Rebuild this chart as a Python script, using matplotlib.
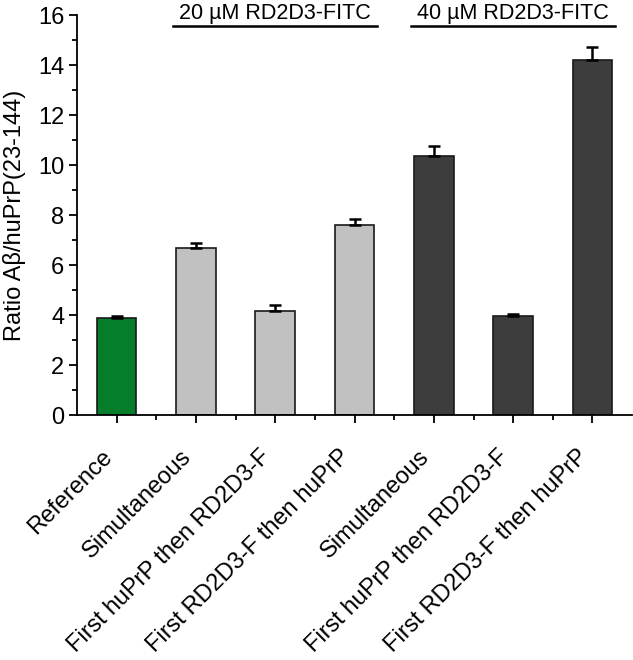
import numpy as np
import matplotlib.pyplot as plt
from matplotlib.ticker import MultipleLocator

plt.rcParams['font.family'] = ['Liberation Sans', 'DejaVu Sans']

categories = ["Reference", "Simultaneous", "First huPrP then RD2D3-F", "First RD2D3-F then huPrP",
              "Simultaneous", "First huPrP then RD2D3-F", "First RD2D3-F then huPrP"]
ratios = [3.90, 6.67, 4.17, 7.62, 10.35, 3.95, 14.22]
errors = [0.05, 0.23, 0.24, 0.23, 0.43, 0.09, 0.52]
colors = ["#067d2b", "#c1c1c1", "#c1c1c1", "#c1c1c1", "#3c3d3c", "#3c3d3c", "#3c3d3c"]
group_labels = ["20 µM RD2D3-FITC", "40 µM RD2D3-FITC"]
group_spans = [(2, 4), (5, 7)]

x = np.arange(1, len(categories) + 1)

fig = plt.figure(figsize=(6.33, 6.6), dpi=100)
ax = fig.add_axes([0.1216, 0.371, 0.877, 0.606])

ax.bar(x, ratios, width=0.5, color=colors, edgecolor="#1a1a1a", linewidth=1.2, zorder=2)
ax.errorbar(x, ratios, yerr=[np.zeros(len(errors)), errors], fmt="none",
            ecolor="black", elinewidth=1.8, capsize=4.5, capthick=1.8, zorder=3)

ax.set_xlim(0.5, 7.5)
ax.set_ylim(0, 16)
ax.yaxis.set_major_locator(MultipleLocator(2))
ax.yaxis.set_minor_locator(MultipleLocator(1))
ax.set_xticks(x)
ax.set_xticks(x[:-1] + 0.5, minor=True)
ax.set_xticklabels(categories, rotation=45, ha="right", fontsize=17)
ax.tick_params(axis="y", labelsize=17, pad=3)
ax.tick_params(axis="x", which="major", pad=16)
ax.tick_params(which="major", direction="out", length=6, width=1.3)
ax.tick_params(which="minor", direction="out", length=3.5, width=1.3)
ax.set_ylabel("Ratio Aβ/huPrP(23-144)", fontsize=17, labelpad=9)

for side in ["top", "right"]:
    ax.spines[side].set_visible(False)
for side in ["left", "bottom"]:
    ax.spines[side].set_linewidth(1.3)

# group brackets above the bars
for label, (a, b) in zip(group_labels, group_spans):
    ax.plot([a - 0.29, b + 0.28], [15.58, 15.58], color="black", linewidth=1.8, clip_on=False)
    ax.text((a + b) / 2, 15.86, label, ha="center", va="baseline", fontsize=15.5, clip_on=False)

plt.savefig("out.png", dpi=100)
